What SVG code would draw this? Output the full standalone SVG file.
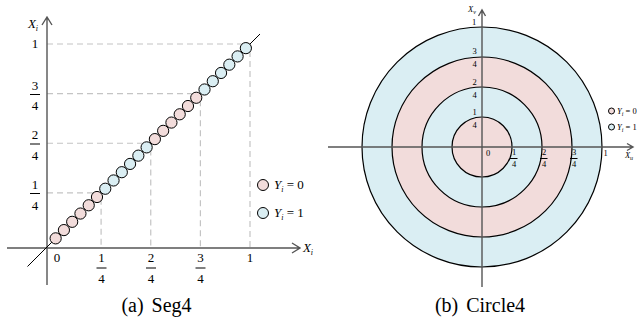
<svg xmlns="http://www.w3.org/2000/svg" width="637" height="328" viewBox="0 0 637 328">
<style>
.ax{stroke:#555;stroke-width:1.4;fill:none}
.dash{stroke:#c4c4c4;stroke-width:1.2;stroke-dasharray:6 4;fill:none}
.p{fill:#f2dcdb;stroke:#000;stroke-width:1}
.b{fill:#daeef3;stroke:#000;stroke-width:1}
.t{font-family:"Liberation Serif",serif;font-size:13px;fill:#000}
.s{font-family:"Liberation Serif",serif;font-size:8.5px;fill:#000}
.it{font-style:italic}
.cap{font-family:"Liberation Serif",serif;font-size:20px;fill:#000}
.bar{stroke:#000;stroke-width:1}
.ring{stroke:#000;stroke-width:1.2}
</style>
<rect width="637" height="328" fill="#fff"/>

<!-- Panel (a) -->
<g id="seg4">
<g id="grid">
<path class="dash" d="M47 44H250V248M47 93.6H200.4V248M47 143.25H150.75V248M47 192.9H101.1V248"/>
</g>
<g id="axes-a">
<path class="ax" d="M47 285V17M42 25L47 17L52 25"/>
<path class="ax" d="M7 248H300M292 243L300 248L292 253"/>
<path stroke="#000" stroke-width="1" d="M27.5 266.5L260 34"/>
</g>
<g id="points">
<circle class="p" cx="55.64" cy="238.36" r="5.6"/>
<circle class="p" cx="63.91" cy="230.09" r="5.6"/>
<circle class="p" cx="72.18" cy="221.82" r="5.6"/>
<circle class="p" cx="80.45" cy="213.55" r="5.6"/>
<circle class="p" cx="88.72" cy="205.28" r="5.6"/>
<circle class="p" cx="96.99" cy="197.01" r="5.6"/>
<circle class="b" cx="105.26" cy="188.74" r="5.6"/>
<circle class="b" cx="113.53" cy="180.47" r="5.6"/>
<circle class="b" cx="121.80" cy="172.20" r="5.6"/>
<circle class="b" cx="130.07" cy="163.93" r="5.6"/>
<circle class="b" cx="138.35" cy="155.65" r="5.6"/>
<circle class="b" cx="146.62" cy="147.38" r="5.6"/>
<circle class="p" cx="154.89" cy="139.11" r="5.6"/>
<circle class="p" cx="163.16" cy="130.84" r="5.6"/>
<circle class="p" cx="171.43" cy="122.57" r="5.6"/>
<circle class="p" cx="179.70" cy="114.30" r="5.6"/>
<circle class="p" cx="187.97" cy="106.03" r="5.6"/>
<circle class="p" cx="196.24" cy="97.76" r="5.6"/>
<circle class="b" cx="204.51" cy="89.49" r="5.6"/>
<circle class="b" cx="212.78" cy="81.22" r="5.6"/>
<circle class="b" cx="221.05" cy="72.95" r="5.6"/>
<circle class="b" cx="229.32" cy="64.68" r="5.6"/>
<circle class="b" cx="237.59" cy="56.41" r="5.6"/>
<circle class="b" cx="245.86" cy="48.14" r="5.6"/>
</g>
<g id="labels-a" text-anchor="middle">
<text class="t it" x="33" y="28">X<tspan font-size="8" dy="3">i</tspan></text>
<text class="t it" x="308" y="252">X<tspan font-size="8" dy="3">i</tspan></text>
<text class="t" x="35" y="48">1</text>
<text class="t" x="35" y="90">3</text><line class="bar" x1="30" y1="94.5" x2="40" y2="94.5"/><text class="t" x="35" y="110">4</text>
<text class="t" x="35" y="139">2</text><line class="bar" x1="30" y1="144" x2="40" y2="144"/><text class="t" x="35" y="160">4</text>
<text class="t" x="35" y="189">1</text><line class="bar" x1="30" y1="193.5" x2="40" y2="193.5"/><text class="t" x="35" y="210">4</text>
<text class="t" x="57" y="262">0</text>
<text class="t" x="101.5" y="262">1</text><line class="bar" x1="96.5" y1="268" x2="106.5" y2="268"/><text class="t" x="101.5" y="283">4</text>
<text class="t" x="151" y="262">2</text><line class="bar" x1="146" y1="268" x2="156" y2="268"/><text class="t" x="151" y="283">4</text>
<text class="t" x="200.5" y="262">3</text><line class="bar" x1="195.5" y1="268" x2="205.5" y2="268"/><text class="t" x="200.5" y="283">4</text>
<text class="t" x="250" y="262">1</text>
</g>
<g id="legend-a">
<circle class="p" cx="263" cy="185" r="5.5"/>
<text class="t" x="274" y="189"><tspan class="it">Y</tspan><tspan class="it" font-size="8" dy="3">i</tspan><tspan dy="-3"> = 0</tspan></text>
<circle class="b" cx="263" cy="213" r="5.5"/>
<text class="t" x="274" y="217"><tspan class="it">Y</tspan><tspan class="it" font-size="8" dy="3">i</tspan><tspan dy="-3"> = 1</tspan></text>
</g>
<text class="cap" x="156.5" y="312" text-anchor="middle">(a)<tspan dx="8">Seg4</tspan></text>
</g>

<!-- Panel (b) -->
<g id="circle4">
<g id="rings">
<circle class="ring" cx="482" cy="147" r="120" fill="#daeef3"/>
<circle class="ring" cx="482" cy="147" r="90" fill="#f2dcdb"/>
<circle class="ring" cx="482" cy="147" r="60" fill="#daeef3"/>
<circle class="ring" cx="482" cy="147" r="30" fill="#f2dcdb"/>
</g>
<g id="axes-b">
<path class="ax" d="M328 147H633M627 143.5L633 147L627 150.5"/>
<path class="ax" d="M482 287V10M478.5 16L482 10L485.5 16"/>
</g>
<g id="labels-b" text-anchor="middle">
<text class="s it" x="472" y="12">X<tspan font-size="6" dy="2">v</tspan></text>
<text class="s it" x="629" y="158">X<tspan font-size="6" dy="2">u</tspan></text>
<text class="s" x="474" y="25">1</text>
<text class="s" x="474.5" y="54">3</text><text class="s" x="474.5" y="67">4</text>
<text class="s" x="474.5" y="85">2</text><text class="s" x="474.5" y="98">4</text>
<text class="s" x="474.5" y="115">1</text><text class="s" x="474.5" y="128">4</text>
<text class="s" x="488" y="156">0</text>
<text class="s" x="514" y="155">1</text><line class="bar" x1="510" y1="158.5" x2="517.5" y2="158.5" stroke-width="1.4"/><text class="s" x="514" y="167">4</text>
<text class="s" x="544" y="155">2</text><line class="bar" x1="540" y1="158.5" x2="547.5" y2="158.5" stroke-width="1.4"/><text class="s" x="544" y="167">4</text>
<text class="s" x="574" y="155">3</text><line class="bar" x1="570" y1="158.5" x2="577.5" y2="158.5" stroke-width="1.4"/><text class="s" x="574" y="167">4</text>
<text class="s" x="605.5" y="156">1</text>
</g>
<g id="legend-b">
<circle class="p" cx="611.5" cy="111" r="3"/>
<text class="s" x="617" y="113.5"><tspan class="it">Y</tspan><tspan class="it" font-size="6" dy="2">i</tspan><tspan dy="-2"> = 0</tspan></text>
<circle class="b" cx="611.5" cy="127" r="3"/>
<text class="s" x="617" y="129.5"><tspan class="it">Y</tspan><tspan class="it" font-size="6" dy="2">i</tspan><tspan dy="-2"> = 1</tspan></text>
</g>
<text class="cap" x="480" y="312" text-anchor="middle">(b)<tspan dx="8">Circle4</tspan></text>
</g>
</svg>
